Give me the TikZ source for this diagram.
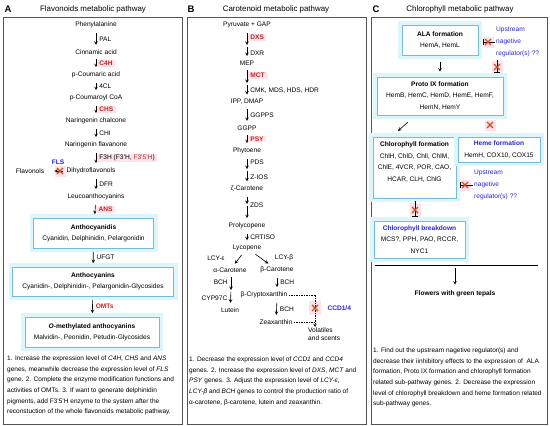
\documentclass[tikz,border=0pt]{standalone}
\usepackage{fontspec}
\setmainfont{Liberation Sans}
\usetikzlibrary{positioning}
\usetikzlibrary{shapes.misc}
\usetikzlibrary{arrows.meta}
\definecolor{enzred}{RGB}{196,38,30}
\definecolor{enzbg}{RGB}{255,226,236}
\definecolor{regblue}{RGB}{38,38,218}
\definecolor{boxline}{RGB}{118,186,226}
\definecolor{boxhalo}{RGB}{220,246,250}
\definecolor{framegray}{RGB}{85,85,85}
\definecolor{xred}{RGB}{206,78,28}
\newcommand{\cmpfont}{\fontsize{6.6}{11}\selectfont}
\newcommand{\notefont}{\fontsize{6.5}{10.7}\selectfont}
\tikzset{
>=stealth, % all arrows with stealth tip
cmp/.style={inner sep=1pt,font=\cmpfont},
enz/.style={anchor=west,inner sep=1pt,xshift=2pt,font=\cmpfont},
key enz/.style={enz,xshift=-1.4pt,inner xsep=2.5pt,fill=enzbg,text=enzred,font=\cmpfont\bfseries},
flow/.style={->,line width=0.6pt,shorten >=3.5pt,shorten <=3.5pt},
inhib/.style={-{Bar[width=6pt]},line width=0.6pt},
pbox/.style={draw=boxline,fill=white,line width=0.7pt,align=center,inner sep=2pt,
  font=\cmpfont,preaction={draw=boxhalo,line width=8pt}},
panel/.style={draw=framegray,line width=0.8pt},
ptitle/.style={font=\fontsize{7.9}{9}\selectfont},
plabel/.style={font=\fontsize{9.5}{10}\selectfont\bfseries},
note/.style={anchor=base west,inner sep=0pt,font=\notefont},
reg/.style={anchor=west,align=left,inner sep=0pt,text=regblue,font=\fontsize{6.6}{12}\selectfont},
regb/.style={text=regblue,font=\cmpfont\bfseries},
xbg/.style={fill=enzbg,inner sep=0pt,minimum width=11pt,minimum height=11pt},
xmark/.style={cross out,draw=xred,line width=1.1pt,inner sep=0pt,minimum size=5pt}
}
\begin{document}
\begin{tikzpicture}[x=1pt,y=-1pt]
\useasboundingbox (0,0) rectangle (550,426);
% panel frames and titles
\draw[panel] (3,17) rectangle (182,424);
\draw[panel] (187,17) rectangle (366,424);
\draw[panel] (371,17) rectangle (547,424);
\node[plabel] (lA) at (8,9) {A};
\node[ptitle] (tA) at (93,9) {Flavonoids metabolic pathway};
\node[plabel] (lB) at (191,9) {B};
\node[ptitle] (tB) at (276,9) {Carotenoid metabolic pathway};
\node[plabel] (lC) at (376,9) {C};
\node[ptitle] (tC) at (460,9) {Chlorophyll metabolic pathway};

% A: flavonoids
\node[cmp] (phe) at (96,25)  {Phenylalanine};
\node[cmp] (cin) at (96,52)  {Cinnamic acid};
\node[cmp] (pca) at (96,75)  {p-Coumaric acid};
\node[cmp] (pcc) at (96,98)  {p-Coumaroyl CoA};
\node[cmp] (nch) at (96,121) {Naringenin chalcone};
\node[cmp] (nfl) at (96,145) {Naringenin flavanone};
\node[cmp] (dhf) at (91,171) {Dihydroflavonols};
\node[cmp] (flo) at (30,171) {Flavonols};
\node[cmp] (leu) at (96,197) {Leucoanthocyanins};
\node[pbox,minimum width=120,minimum height=30] (acd) at (93.5,233)
  {\textbf{Anthocyanidis}\\Cyanidin, Delphinidin, Pelargonidin};
\node[pbox,minimum width=161,minimum height=29] (acy) at (93,281.5)
  {\textbf{Anthocyanins}\\Cyanidin-, Delphinidin-, Pelargonidin-Glycosides};
\node[pbox,minimum width=134,minimum height=30] (oma) at (92,332)
  {\textbf{\textit{O}-methylated anthocyanins}\\Malvidin-, Peonidin, Petudin-Glycosides};
\path[flow] (phe) edge node[enz]{PAL} (cin)
            (cin) edge node[key enz]{C4H} (pca)
            (pca) edge node[enz]{4CL} (pcc)
            (pcc) edge node[key enz]{CHS} (nch)
            (nch) edge node[enz]{CHI} (nfl)
            (nfl) edge node[enz,xshift=-1.4pt,inner xsep=2.5pt,fill=enzbg]{F3H (F3'H, \textcolor{enzred}{F3'5'H})} (nfl |- dhf.north)
            (nfl |- dhf.south) edge node[enz]{DFR} (leu)
            (leu) edge node[key enz]{ANS} (acd)
            (acd) edge node[enz]{UFGT} (acy)
            (acy) edge node[enz,text=enzred,font=\cmpfont\bfseries]{OMTs} (oma);
\node[xbg] (xfls) at (60,171) {};
\draw[flow,shorten >=9pt,shorten <=2pt] (dhf) -- (flo);
\node[xmark] at (xfls) {};
\node[regb] (fls) at (58,162) {FLS};
\foreach \txt [count=\k from 0] in {
  {1. Increase the expression level of \textit{C4H}, \textit{CHS} and \textit{ANS}},
  {genes, meanwhile decrease the expression level of \textit{FLS}},
  {gene. 2. Complete the enzyme modification functions and},
  {activities of OMTs. 3. If want to generate delphinidin},
  {pigments, add F3'5'H enzyme to the system after the},
  {reconstuction of the whole flavonoids metabolic pathway.}}
  \node[note] (nA\k) at (7,360.3+10.7*\k) {\txt};

% B: carotenoids
\node[cmp] (pyr) at (247,25)  {Pyruvate + GAP};
\coordinate (bx1) at (247,46);
\node[cmp] (mep) at (247,63)  {MEP};
\coordinate (bx2) at (247,84);
\node[cmp] (ipp) at (247,102) {IPP, DMAP};
\node[cmp] (ggp) at (247,128) {GGPP};
\node[cmp] (phy) at (247,151) {Phytoene};
\coordinate (bx3) at (247,170);
\node[cmp] (zca) at (247,189) {ζ-Carotene};
\coordinate (bx4) at (247,205);
\node[cmp] (pro) at (247,226) {Prolycopene};
\node[cmp] (lyc) at (247,248) {Lycopene};
\node[cmp] (aca) at (230,270) {α-Carotene};
\node[cmp] (bca) at (277,270) {β-Carotene};
\coordinate (ax1) at (231,291);
\node[cmp] (lut) at (230,310) {Lutein};
\node[cmp] (bcx) at (264,295) {β-Cryptoxanthin};
\node[cmp] (zea) at (276,322) {Zeaxanthin};
\node[cmp,align=left,anchor=north west] (vol) at (307,327) {Volatiles\\[-3pt]and scents};
\path[flow] (pyr) edge[shorten >=1pt] node[key enz]{DXS} (bx1)
            (bx1) edge[shorten <=1pt] node[enz]{DXR} (mep)
            (mep) edge[shorten >=1pt] node[key enz]{MCT} (bx2)
            (bx2) edge[shorten <=1pt] node[enz]{CMK, MDS, HDS, HDR} (ipp)
            (ipp) edge node[enz]{GGPPS} (ggp)
            (ggp) edge node[key enz]{PSY} (phy)
            (phy) edge[shorten >=1pt] node[enz]{PDS} (bx3)
            (bx3) edge[shorten <=1pt] node[enz]{Z-IOS} (zca)
            (zca) edge[shorten >=1pt] (bx4)
            (bx4) edge[shorten <=1pt] (pro)
            (pro) edge node[enz]{CRTISO} (lyc)
            (lyc) edge (aca)
            (lyc) edge (bca)
            (aca.south -| ax1) edge[shorten >=1pt] node[enz,anchor=east,xshift=-4pt]{BCH} (ax1)
            (ax1) edge[shorten <=1pt] node[enz,anchor=east,xshift=-4pt]{CYP97C} (lut)
            (bca) edge node[enz]{BCH} (bca |- bcx.north)
            (bca |- bcx.south) edge node[enz]{BCH} (zea);
\node[enz] (zds) at (bx4) {ZDS};
\node[cmp] (lce) at (216,258) {LCY-ε};
\node[cmp] (lcb) at (284,258) {LCY-β};
\coordinate (ccd) at (315,308);
\node[xbg,minimum width=12pt,minimum height=14pt] (xccd) at (ccd) {};
\draw[dash pattern=on 1.5pt off 1pt,line width=0.5pt] (bcx.east) -- (bcx.east -| ccd);
\draw[dash pattern=on 1.5pt off 1pt,line width=0.5pt] (zea.east) -- (zea.east -| ccd);
\draw[dash pattern=on 1.5pt off 1pt,line width=0.5pt,->] (bcx.east -| ccd) -- (ccd |- vol.north);
\node[xmark] at (ccd) {};
\node[regb,anchor=west] (ccdl) at (324,308) {CCD1/4};
\foreach \txt [count=\k from 0] in {
  {1. Decrease the expression level of \textit{CCD1} and \textit{CCD4}},
  {genes. 2. Increase the expression level of \textit{DXS}, \textit{MCT} and},
  {\textit{PSY} genes. 3. Adjust the expression level of \textit{LCY-ε},},
  {\textit{LCY-β} and \textit{BCH} genes to control the production ratio of},
  {α-carotene, β-carotene, lutein and zeaxanthin.}}
  \node[note] (nB\k) at (189,361.3+10.7*\k) {\txt};

% C: chlorophyll
\node[pbox,minimum width=76,minimum height=30,font=\fontsize{6.6}{11.5}\selectfont] (ala) at (440,40)
  {\textbf{ALA formation}\\HemA, HemL};
\node[pbox,minimum width=126,minimum height=38,font=\fontsize{6.6}{11.5}\selectfont] (pix) at (440,96)
  {\textbf{Proto IX formation}\\HemB, HemC, HemD, HemE, HemF,\\HemN, HemY};
\node[pbox,minimum width=83,minimum height=61,font=\fontsize{6.6}{11.5}\selectfont] (chl) at (414.5,167.5)
  {\textbf{Chlorophyll formation}\\ChlH, ChlD, ChlI, ChlM,\\ChlE, 4VCR, POR, CAO,\\HCAR, CLH, ChlG\\ \mbox{}};
\node[pbox,minimum width=82,minimum height=25,font=\fontsize{6.6}{11.5}\selectfont] (hem) at (499,149.5)
  {\textbf{\textcolor{regblue}{Heme formation}}\\HemH, COX10, COX15};
\node[pbox,minimum width=91,minimum height=37,font=\fontsize{6.6}{11.5}\selectfont] (brk) at (419.5,239.5)
  {\textbf{\textcolor{regblue}{Chlorophyll breakdown}}\\MCS?, PPH, PAO, RCCR,\\NYC1};
\node[reg] (reg1) at (496,42) {Upstream\\nagetive\\regulator(s) ??};
\node[reg] (reg2) at (474,185) {Upstream\\nagetive\\regulator(s) ??};
\path[flow] (ala) edge[shorten <=7pt,shorten >=5pt] (pix);
\coordinate (dg1) at (408,122);
\coordinate (dg2) at (398,131);
\draw[->,line width=0.6pt] (dg1) -- (dg2);
% inhibitions
\node[xbg] (x1) at (488,42) {};
\draw[inhib,shorten <=1pt,shorten >=5pt] (reg1.west) -- (reg1.west -| ala.east);
\node[xmark] at (x1) {};
\node[xbg,minimum height=13pt] (x2) at (497,67) {};
\draw[inhib,shorten <=3pt,shorten >=4pt] (reg1.south -| x2) -- (x2 |- pix.north);
\node[xmark] at (x2) {};
\node[xbg] (x3) at (490,125) {};
\node[xmark] at (x3) {};
\node[xbg] (x4) at (465,185) {};
\draw[inhib,shorten <=1pt,shorten >=4pt] (reg2.west) -- (reg2.west -| chl.east);
\node[xmark] at (x4) {};
\node[xbg,minimum height=14pt] (x5) at (415,210) {};
\draw[inhib,shorten <=3pt,shorten >=4pt] (chl.south -| x5) -- (x5 |- brk.north);
\node[xmark] at (x5) {};
% outcome
\coordinate (sepl) at (375,265);
\coordinate (sepr) at (538,265);
\draw[line width=0.6pt] (sepl) -- (sepr);
\coordinate (sepm) at (455,265);
\node[cmp,font=\cmpfont\bfseries] (flw) at (455,294) {Flowers with green tepals};
\path[flow] (sepm) edge[shorten <=3pt,shorten >=5pt] (flw);
\foreach \txt [count=\k from 0] in {
  {1. Find out the upstream nagetive regulator(s) and},
  {decrease their iinhibitory effects to the expression of~ ALA},
  {formation, Proto IX formation and chlorophyll formation},
  {related sub-pathway genes. 2. Decrease the expression},
  {level of chlorophyll breakdown and heme formation related},
  {sub-pathway genes.}}
  \node[note] (nC\k) at (373,352.3+10.7*\k) {\txt};
\end{tikzpicture}
\end{document}
